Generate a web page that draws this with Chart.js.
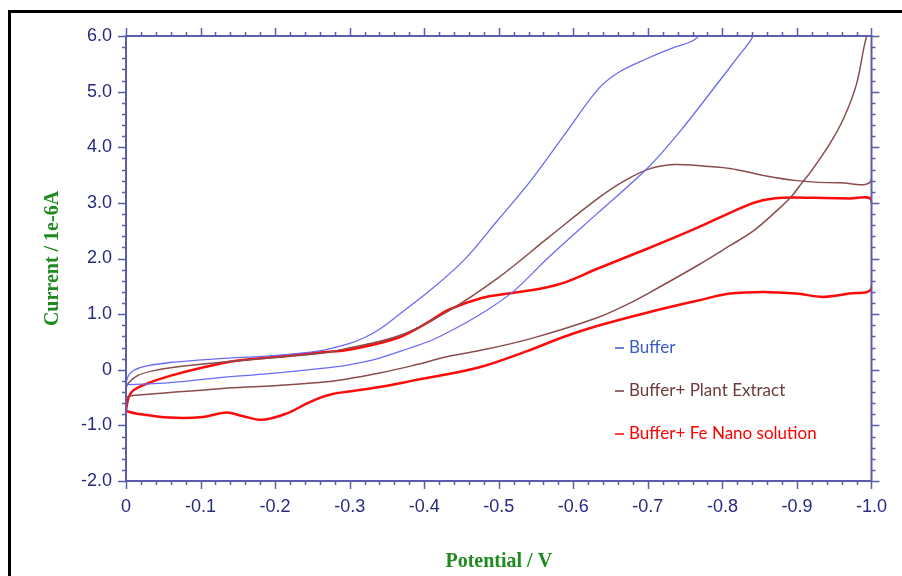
<!DOCTYPE html>
<html>
<head>
<meta charset="utf-8">
<script src="https://cdn.jsdelivr.net/npm/chart.js@4.4.1/dist/chart.umd.min.js"></script>
<style>
    html, body { margin: 0; padding: 0; background: #fff; }
    #wrap { position: relative; width: 902px; height: 576px; overflow: hidden; }
    #frame { position: absolute; left: 8px; top: 10px; right: -5px; bottom: -5px;
             border-left: 3px solid #000; border-top: 3px solid #000; }
    #cvChart { position: absolute; left: 0; top: 0; }
</style>
</head>
<body>
<div id="wrap">
    <div id="frame"></div>
    <canvas id="cvChart" width="902" height="576"></canvas>
</div>
<script>
// series labels
const seriesLabels = ['Buffer', 'Buffer+ Plant Extract', 'Buffer+ Fe Nano solution'];

// Buffer: potential (V) / current (1e-6 A), forward sweep then return
const bufferV = [0, -0.059, -0.126, -0.192, -0.259, -0.295, -0.340, -0.383, -0.410, -0.443, -0.477, -0.519, -0.566, -0.633, -0.700, -0.744, -0.789, -0.820, -0.840, -0.860,
    -0.790, -0.766, -0.736, -0.700, -0.660, -0.633, -0.589, -0.543, -0.497, -0.454, -0.410, -0.366, -0.339, -0.320, -0.299, -0.259, -0.192, -0.126, -0.059, -0.019, -0.005, 0];
const bufferI = [-0.27, -0.23, -0.14, -0.07, 0.02, 0.08, 0.21, 0.40, 0.53, 0.75, 1.01, 1.40, 2.01, 2.82, 3.63, 4.30, 5.07, 5.61, 5.97, 6.60,
    6.60, 5.97, 5.80, 5.60, 5.34, 5.04, 4.24, 3.40, 2.66, 1.98, 1.45, 0.99, 0.72, 0.58, 0.47, 0.34, 0.25, 0.20, 0.13, 0.04, -0.07, -0.23];

// Buffer + plant extract
const plantV = [0, -0.005, -0.059, -0.126, -0.192, -0.259, -0.295, -0.340, -0.383, -0.436, -0.473, -0.543, -0.633, -0.673, -0.700, -0.766, -0.810, -0.842, -0.873, -0.891, -0.909, -0.917, -0.944, -0.963, -0.980, -0.993, -1.0,
    -1.0, -0.957, -0.900, -0.856, -0.810, -0.766, -0.736, -0.704, -0.669, -0.633, -0.566, -0.499, -0.433, -0.366, -0.295, -0.259, -0.192, -0.148, -0.081, -0.036, -0.015, -0.001, 0];
const plantI = [-0.50, -0.47, -0.41, -0.34, -0.29, -0.23, -0.17, -0.06, 0.07, 0.25, 0.34, 0.56, 0.94, 1.18, 1.37, 1.87, 2.23, 2.50, 2.86, 3.09, 3.40, 3.53, 4.06, 4.53, 5.14, 5.97, 6.10,
    3.42, 3.36, 3.40, 3.49, 3.62, 3.67, 3.69, 3.62, 3.40, 3.08, 2.37, 1.65, 1.06, 0.61, 0.38, 0.29, 0.21, 0.16, 0.07, -0.02, -0.11, -0.29, -0.50];

// Buffer + Fe nano solution
const nanoV = [0, -0.015, -0.059, -0.103, -0.135, -0.156, -0.183, -0.215, -0.242, -0.259, -0.276, -0.299, -0.340, -0.383, -0.473, -0.539, -0.583, -0.633, -0.700, -0.766, -0.810, -0.855, -0.899, -0.935, -0.970, -1.0,
    -1.0, -0.970, -0.925, -0.880, -0.847, -0.810, -0.766, -0.700, -0.633, -0.589, -0.557, -0.513, -0.477, -0.433, -0.406, -0.366, -0.299, -0.259, -0.192, -0.148, -0.103, -0.059, -0.028, -0.009, -0.003, 0];
const nanoI = [-0.74, -0.79, -0.86, -0.85, -0.77, -0.83, -0.90, -0.79, -0.61, -0.51, -0.44, -0.39, -0.31, -0.20, 0.04, 0.34, 0.57, 0.79, 1.03, 1.24, 1.37, 1.40, 1.37, 1.31, 1.37, 1.47,
    3.04, 3.08, 3.09, 3.09, 3.02, 2.82, 2.55, 2.18, 1.82, 1.57, 1.46, 1.37, 1.29, 1.08, 0.86, 0.58, 0.36, 0.31, 0.22, 0.16, 0.04, -0.11, -0.25, -0.38, -0.52, -0.74];

const axisColor = '#5d5dab';
const tickTextColor = '#262a80';
const titleColor = '#1f8a1f';

const toPoints = (xs, ys) => xs.map((v, i) => ({x: v, y: ys[i]}));
const fmt = v => (Math.abs(v) < 1e-9 ? '0' : v.toFixed(1));

// box round the plot with major / minor tick marks on all four sides
const boxTicks = {
    id: 'boxTicks',
    afterDraw(chart) {
        const {ctx, chartArea: a, scales: {x, y}} = chart;
        const withMinors = (scale) => {
            const vals = scale.ticks.map(t => t.value).sort((p, q) => p - q);
            const out = [];
            vals.forEach((v, i) => {
                out.push({v: v, major: true});
                if (i < vals.length - 1) {
                    for (let k = 1; k < 5; k++) out.push({v: v + (vals[i + 1] - v) * k / 5, major: false});
                }
            });
            return out;
        };
        ctx.save();
        ctx.strokeStyle = axisColor;
        ctx.lineWidth = 2;
        ctx.strokeRect(a.left, a.top, a.right - a.left, a.bottom - a.top);
        ctx.lineWidth = 1.5;
        ctx.beginPath();
        withMinors(x).forEach(t => {
            const px = Math.round(x.getPixelForValue(t.v)) + 0.5;
            const len = t.major ? 8 : 4;
            ctx.moveTo(px, a.bottom); ctx.lineTo(px, a.bottom + len);
            ctx.moveTo(px, a.top); ctx.lineTo(px, a.top - len);
        });
        withMinors(y).forEach(t => {
            const py = Math.round(y.getPixelForValue(t.v)) + 0.5;
            const len = t.major ? 8 : 4;
            ctx.moveTo(a.left, py); ctx.lineTo(a.left - len, py);
            ctx.moveTo(a.right, py); ctx.lineTo(a.right + len, py);
        });
        ctx.stroke();
        ctx.restore();
    }
};

// legend written inside the plot, lower right
const cvLegend = {
    id: 'cvLegend',
    afterDatasetsDraw(chart) {
        const {ctx, chartArea: a} = chart;
        ctx.save();
        ctx.font = '17px Lato';
        ctx.textBaseline = 'middle';
        chart.data.datasets.forEach((ds, i) => {
            const lx = a.left + 489;
            const ly = a.top + 312 + i * 43;
            ctx.strokeStyle = ds.legendColor;
            ctx.lineWidth = 1.5;
            ctx.beginPath();
            ctx.moveTo(lx, ly); ctx.lineTo(lx + 9, ly);
            ctx.stroke();
            ctx.fillStyle = ds.legendColor;
            ctx.fillText(ds.label, lx + 14, ly);
        });
        ctx.restore();
    }
};

const ctx = document.getElementById('cvChart');
new Chart(ctx, {
    type: 'scatter',
    data: {
        datasets: [{
            label: seriesLabels[0],
            data: toPoints(bufferV, bufferI),
            borderColor: '#6b6bf5',
            legendColor: '#3b5bc4',
            borderWidth: 1.3,
            showLine: true,
            tension: 0.35
        }, {
            label: seriesLabels[1],
            data: toPoints(plantV, plantI),
            borderColor: '#8b4c4c',
            legendColor: '#6e3a3a',
            borderWidth: 1.5,
            showLine: true,
            tension: 0.35
        }, {
            label: seriesLabels[2],
            data: toPoints(nanoV, nanoI),
            borderColor: '#ff0a0a',
            legendColor: '#ff0000',
            borderWidth: 2.5,
            showLine: true,
            tension: 0.35
        }]
    },
    options: {
        responsive: false,
        animation: false,
        elements: {
            point: { radius: 0, hoverRadius: 0 },
            line: { fill: false, capBezierPoints: false }
        },
        layout: {
            padding: { left: 0, top: 36, right: 27, bottom: 0 }
        },
        plugins: {
            legend: { display: false },
            tooltip: { enabled: false }
        },
        scales: {
            x: {
                type: 'linear',
                reverse: true,
                min: -1.0,
                max: 0,
                afterFit: s => { s.height = 95; },
                border: { display: false },
                grid: { display: false, drawTicks: false, tickLength: 0 },
                ticks: {
                    stepSize: 0.1,
                    padding: 15,
                    color: tickTextColor,
                    font: { family: '"Liberation Sans", Arial', size: 18 },
                    callback: v => fmt(v)
                },
                title: {
                    display: true,
                    text: 'Potential / V',
                    color: titleColor,
                    font: { family: '"Liberation Serif", "Times New Roman"', size: 20, weight: 'bold' },
                    padding: { top: 0, bottom: 2 }
                }
            },
            y: {
                min: -2.0,
                max: 6.0,
                afterFit: s => { s.width = 126; },
                border: { display: false },
                grid: { display: false, drawTicks: false, tickLength: 0 },
                ticks: {
                    stepSize: 1,
                    padding: 14,
                    color: tickTextColor,
                    font: { family: '"Liberation Sans", Arial', size: 18 },
                    callback: v => fmt(v)
                },
                title: {
                    display: true,
                    text: 'Current / 1e-6A',
                    color: titleColor,
                    font: { family: '"Liberation Serif", "Times New Roman"', size: 20, weight: 'bold' },
                    padding: { top: 41, bottom: 0 }
                }
            }
        }
    },
    plugins: [boxTicks, cvLegend]
});
</script>
</body>
</html>
